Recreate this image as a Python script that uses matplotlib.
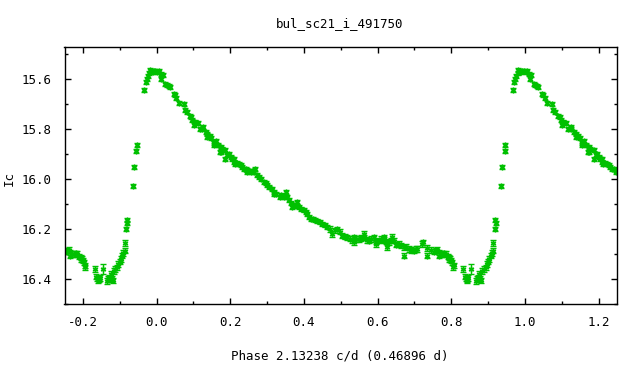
import numpy as np
import matplotlib
matplotlib.use('Agg')
import matplotlib.pyplot as plt
from matplotlib.ticker import MultipleLocator

# phase-folded light curve (phase 0..1)
phase = [0.002, 0.006, 0.011, 0.013, 0.017, 0.024, 0.028, 0.033, 0.036, 0.047,
         0.050, 0.054, 0.060, 0.074, 0.076, 0.082, 0.090, 0.094, 0.097, 0.101,
         0.104, 0.112, 0.118, 0.126, 0.133, 0.138, 0.144, 0.149, 0.156, 0.160,
         0.166, 0.172, 0.174, 0.178, 0.187, 0.192, 0.197, 0.201, 0.205, 0.210,
         0.212, 0.218, 0.224, 0.228, 0.232, 0.237, 0.242, 0.246, 0.250, 0.255,
         0.260, 0.264, 0.267, 0.273, 0.277, 0.283, 0.291, 0.296, 0.300, 0.305,
         0.312, 0.320, 0.325, 0.337, 0.345, 0.355, 0.359, 0.366, 0.373, 0.380,
         0.386, 0.393, 0.400, 0.405, 0.409, 0.414, 0.418, 0.425, 0.430, 0.436,
         0.443, 0.450, 0.456, 0.463, 0.470, 0.477, 0.484, 0.491, 0.497, 0.504,
         0.511, 0.518, 0.525, 0.530, 0.536, 0.542, 0.549, 0.556, 0.563, 0.570,
         0.577, 0.583, 0.590, 0.597, 0.604, 0.610, 0.617, 0.624, 0.631, 0.637,
         0.644, 0.651, 0.658, 0.664, 0.671, 0.678, 0.685, 0.692, 0.699, 0.704,
         0.708, 0.721, 0.733, 0.744, 0.752, 0.758, 0.762, 0.766, 0.771, 0.776,
         0.780, 0.785, 0.790, 0.794, 0.797, 0.800, 0.803, 0.805, 0.807, 0.832,
         0.836, 0.839, 0.842, 0.844, 0.846, 0.854, 0.866, 0.869, 0.872, 0.875,
         0.878, 0.881, 0.884, 0.888, 0.893, 0.896, 0.900, 0.903, 0.907, 0.910,
         0.913, 0.914, 0.918, 0.920, 0.921, 0.936, 0.938, 0.945, 0.946, 0.967,
         0.970, 0.973, 0.977, 0.980, 0.982, 0.986, 0.990, 0.993, 0.997,
         # scattered points
         0.124, 0.138, 0.156, 0.174, 0.187, 0.210, 0.246, 0.319, 0.335, 0.350,
         0.368, 0.382, 0.536, 0.563, 0.595, 0.617, 0.626, 0.640, 0.671, 0.724,
         0.735, 0.766, 0.794]

mag = [15.570, 15.568, 15.577, 15.600, 15.582, 15.617, 15.622, 15.628, 15.630, 15.658,
       15.662, 15.675, 15.695, 15.697, 15.721, 15.730, 15.745, 15.752, 15.761, 15.781,
       15.772, 15.774, 15.800, 15.792, 15.810, 15.818, 15.827, 15.835, 15.854, 15.845,
       15.862, 15.891, 15.871, 15.880, 15.882, 15.904, 15.900, 15.911, 15.918, 15.920,
       15.937, 15.935, 15.940, 15.944, 15.950, 15.957, 15.960, 15.964, 15.968, 15.970,
       15.965, 15.971, 15.957, 15.984, 15.992, 16.000, 16.012, 16.015, 16.025, 16.032,
       16.040, 16.052, 16.060, 16.065, 16.070, 16.072, 16.082, 16.095, 16.105, 16.108,
       16.112, 16.118, 16.125, 16.130, 16.139, 16.150, 16.159, 16.160, 16.165, 16.166,
       16.172, 16.179, 16.185, 16.192, 16.200, 16.219, 16.205, 16.199, 16.210, 16.226,
       16.230, 16.233, 16.238, 16.245, 16.233, 16.240, 16.239, 16.235, 16.233, 16.243,
       16.246, 16.240, 16.233, 16.250, 16.246, 16.240, 16.243, 16.250, 16.253, 16.245,
       16.246, 16.262, 16.259, 16.265, 16.273, 16.270, 16.279, 16.283, 16.286, 16.280,
       16.279, 16.259, 16.275, 16.283, 16.290, 16.286, 16.283, 16.306, 16.300, 16.300,
       16.297, 16.300, 16.310, 16.313, 16.320, 16.325, 16.333, 16.353, 16.345, 16.360,
       16.390, 16.397, 16.405, 16.400, 16.395, 16.360, 16.407, 16.400, 16.395, 16.380,
       16.400, 16.405, 16.367, 16.360, 16.353, 16.340, 16.330, 16.320, 16.306, 16.295,
       16.286, 16.255, 16.199, 16.162, 16.177, 16.029, 15.949, 15.888, 15.861, 15.643,
       15.610, 15.600, 15.587, 15.575, 15.563, 15.565, 15.570, 15.566, 15.568,
       # scattered points
       15.797, 15.831, 15.864, 15.891, 15.918, 15.931, 15.971, 16.058, 16.072, 16.052,
       16.112, 16.092, 16.253, 16.219, 16.259, 16.233, 16.273, 16.230, 16.306, 16.253,
       16.306, 16.293, 16.320]

# 誤差 (faint points a bit larger)
err = [0.008 if m < 16.2 else 0.011 for m in mag]
err[phase.index(0.854)] = 0.02

title = 'bul_sc21_i_491750'
xlabel = 'Phase 2.13238 c/d (0.46896 d)'
ylabel = 'Ic'

phase = np.array(phase)
mag = np.array(mag)
err = np.array(err)

plt.rcParams['font.family'] = ['DejaVu Sans Mono']
fig = plt.figure(figsize=(6.4, 3.84), dpi=100)
ax = fig.add_axes([64.5/640, 1-304/384, (617-64.5)/640, (304-47)/384])

green = '#00c000'
# 位相を -1, 0, +1 ずらして -0.25..1.25 に表示
for shift in (-1, 0, 1):
  x = phase + shift
  sel = (x >= -0.25) & (x <= 1.25)
  ax.errorbar(x[sel], mag[sel], yerr=err[sel], fmt='none', ecolor=green,
              elinewidth=1, capsize=2, capthick=1)
  ax.plot(x[sel], mag[sel], linestyle='none', marker=(6, 2, 0), ms=4,
          mew=1, color=green)

ax.set_xlim(-0.25, 1.25)
ax.set_ylim(16.5, 15.47)
ax.xaxis.set_major_locator(MultipleLocator(0.2))
ax.xaxis.set_minor_locator(MultipleLocator(0.1))
ax.yaxis.set_major_locator(MultipleLocator(0.2))
ax.yaxis.set_minor_locator(MultipleLocator(0.1))
ax.xaxis.set_major_formatter(plt.FormatStrFormatter('%.1f'))
ax.yaxis.set_major_formatter(plt.FormatStrFormatter('%.1f'))

ax.tick_params(which='both', direction='in', top=True, right=True,
               labelsize=9, width=1)
ax.tick_params(which='major', length=4.5)
ax.tick_params(which='minor', length=2.5)
ax.tick_params(axis='x', pad=9)
ax.tick_params(axis='y', pad=9)
for s in ax.spines.values():
  s.set_linewidth(1)

fig.text(340/640, 1-24/384, title, ha='center', va='center', fontsize=9)
fig.text(340/640, 1-356/384, xlabel, ha='center', va='center', fontsize=9)
fig.text(9/640, 1-178/384, ylabel, ha='center', va='center', fontsize=9,
         rotation=90)

fig.savefig('out.png', dpi=100)
